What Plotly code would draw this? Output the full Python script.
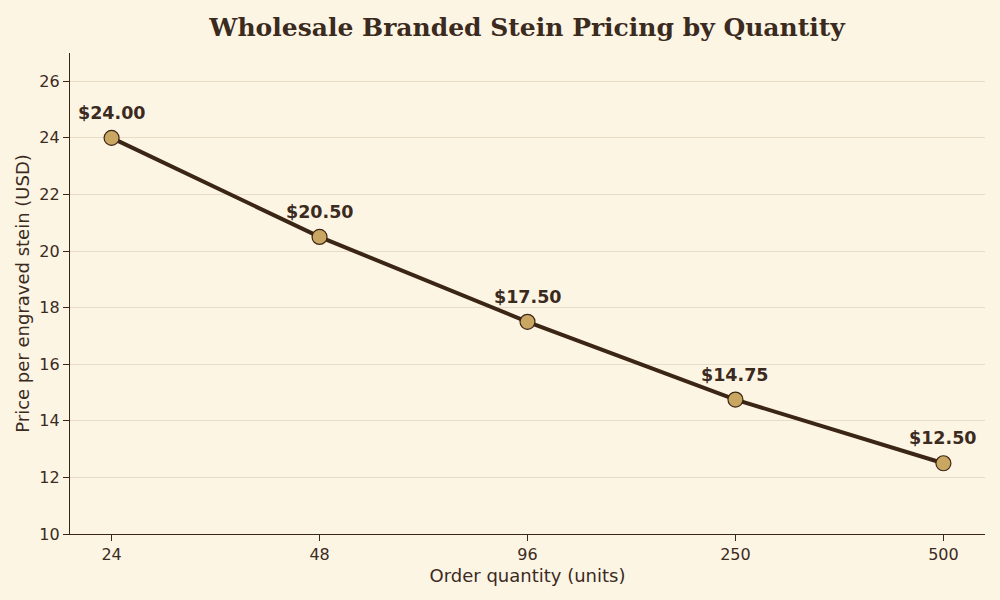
import plotly.graph_objects as go

quantities = ["24", "48", "96", "250", "500"]
prices = [24.00, 20.50, 17.50, 14.75, 12.50]
price_labels = ["$24.00", "$20.50", "$17.50", "$14.75", "$12.50"]

BG = "#fdf5e4"
INK = "#3b2616"
TEXT = "#3b2a1e"
SANS = "DejaVu Sans"

fig = go.Figure()
fig.add_trace(go.Scatter(
    x=quantities, y=prices, mode="lines+markers",
    line=dict(color=INK, width=4),
    marker=dict(size=15, color="#c9a661", line=dict(color=INK, width=1.2)),
    hoverinfo="x+y", showlegend=False,
))
for i, (p, lab) in enumerate(zip(prices, price_labels)):
    fig.add_annotation(x=i, y=p, xref="x", yref="y", text=f"<b>{lab}</b>", showarrow=False,
                       yshift=25, font=dict(family=SANS, size=17.5, color=TEXT))

fig.update_layout(
    width=1000, height=600,
    paper_bgcolor=BG, plot_bgcolor=BG,
    margin=dict(l=70, r=15, t=53, b=66),
    title=dict(text="<b>Wholesale Branded Stein Pricing by Quantity</b>",
               x=0.5271, xanchor="center", y=0.955, yanchor="middle",
               font=dict(family="DejaVu Serif", size=25, color=TEXT)),
    font=dict(family=SANS, size=16, color=TEXT),
    xaxis=dict(type="category", range=[-0.2, 4.2],
               title=dict(text="Order quantity (units)", font=dict(size=18), standoff=6),
               showgrid=False, showline=True, linecolor=INK, linewidth=1.2,
               ticks="outside", tickcolor=INK, ticklen=6, zeroline=False),
    yaxis=dict(range=[10, 27], dtick=2, tick0=10,
               title=dict(text="Price per engraved stein (USD)", font=dict(size=18), standoff=5),
               showgrid=True, gridcolor="#e8dcc6", gridwidth=1,
               showline=True, linecolor=INK, linewidth=1.2,
               ticks="outside", tickcolor=INK, ticklen=6, zeroline=False),
)

fig.write_html("out.html")
